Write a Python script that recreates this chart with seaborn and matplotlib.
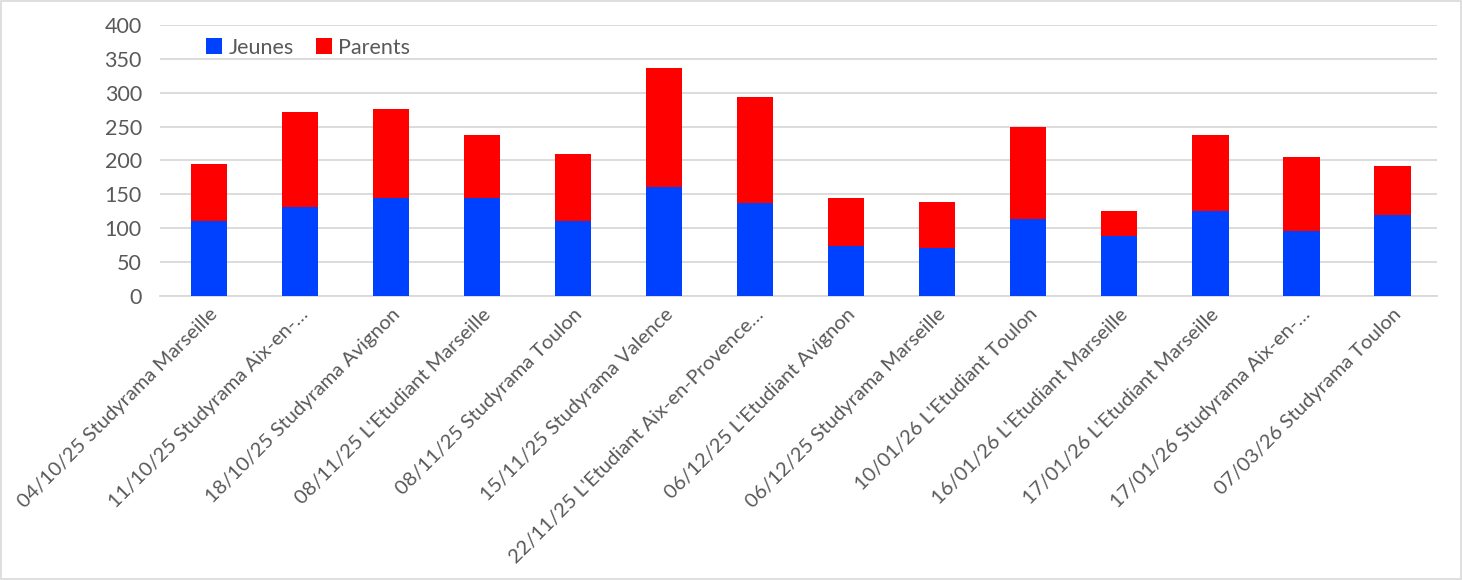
import matplotlib
matplotlib.use("Agg")
import matplotlib.pyplot as plt
import seaborn as sns
import pandas as pd
from matplotlib.patches import Rectangle

categories = [
    "04/10/25 Studyrama Marseille",
    "11/10/25 Studyrama Aix-en-…",
    "18/10/25 Studyrama Avignon",
    "08/11/25 L'Etudiant Marseille",
    "08/11/25 Studyrama Toulon",
    "15/11/25 Studyrama Valence",
    "22/11/25 L'Etudiant Aix-en-Provence…",
    "06/12/25 L'Etudiant Avignon",
    "06/12/25 Studyrama Marseille",
    "10/01/26 L'Etudiant Toulon",
    "16/01/26 L'Etudiant Marseille",
    "17/01/26 L'Etudiant Marseille",
    "17/01/26 Studyrama Aix-en-…",
    "07/03/26 Studyrama Toulon",
]
jeunes = [110, 131, 144, 144, 110, 160, 137, 73, 70, 114, 88, 125, 96, 120]
parents = [85, 141, 132, 94, 100, 176, 157, 71, 68, 136, 37, 113, 109, 71]
yticks = [0, 50, 100, 150, 200, 250, 300, 350, 400]

sns.set_theme(style="white")
plt.rcParams['font.family'] = ['Lato', 'DejaVu Sans']

df = pd.DataFrame({"cat": categories, "Jeunes": jeunes, "Parents": parents})

fig = plt.figure(figsize=(14.62, 5.8), dpi=100)
ax = fig.add_axes([0.1094, 0.490, 0.8735, 0.467])

blue = "#0041FF"
red = "#FF0000"
sns.barplot(data=df, x="cat", y="Jeunes", color=blue, width=0.4, ax=ax,
            label="Jeunes", saturation=1, linewidth=0, zorder=3)
sns.barplot(data=df, x="cat", y="Parents", color=red, width=0.4, ax=ax,
            bottom=df["Jeunes"], label="Parents", saturation=1, linewidth=0, zorder=3)

ax.set_ylim(0, 400)
ax.set_xlim(-0.538, 13.49)
ax.set_yticks(yticks)
ax.set_yticklabels([str(v) for v in yticks], fontsize=15.5, color="#595959")
ax.yaxis.grid(True, color="#D9D9D9", linewidth=1.3, zorder=0)
ax.set_axisbelow(True)
for s in ["top", "right", "left"]:
    ax.spines[s].set_visible(False)
ax.spines["bottom"].set_color("#D9D9D9")
ax.spines["bottom"].set_linewidth(1.3)
ax.tick_params(axis="y", length=0, pad=13)
ax.tick_params(axis="x", length=0, pad=7)
ax.set_xlabel("")
ax.set_ylabel("")
ax.set_xticks(range(len(categories)))
ax.set_xticklabels(categories, rotation=45, ha="right", rotation_mode="anchor",
                   fontsize=14.5, color="#595959")

leg = ax.legend(loc="upper left", bbox_to_anchor=(0.021, 1.025), ncol=2, frameon=False,
                fontsize=15.5, handlelength=0.75, handleheight=0.75, handletextpad=0.3,
                columnspacing=1.0, labelcolor="#595959")

fig.patches.append(Rectangle((0.001, 0.002), 0.998, 0.996, transform=fig.transFigure,
                             fill=False, edgecolor="#D9D9D9", linewidth=1.2))

fig.savefig("out.png", dpi=100, facecolor="white")
